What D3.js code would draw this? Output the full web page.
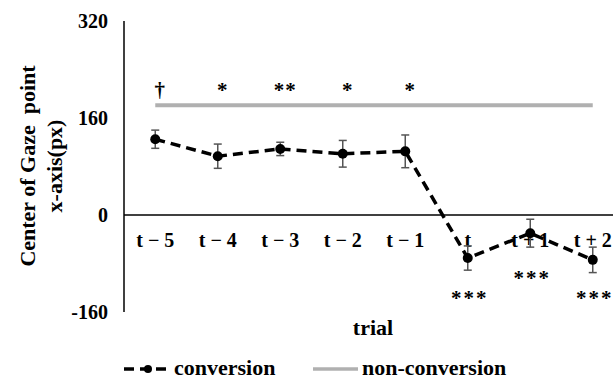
<!DOCTYPE html>
<html>
<head>
<meta charset="utf-8">
<script src="https://d3js.org/d3.v7.min.js"></script>
<style>
  body { margin: 0; background: #fff; }
</style>
</head>
<body>
<script>

// chart data
var trials = ["t \u2212 5", "t \u2212 4", "t \u2212 3", "t \u2212 2", "t \u2212 1", "t", "t + 1", "t + 2"];
var conversion = [125, 97, 109, 101, 105, -71, -30, -74];
var conversionErr = [15, 20, 11, 22, 27, 20, 23, 21];
var nonConversion = [181, 181, 181, 181, 181, 181, 181, 181];
var marksAbove = ["\u2020", "*", "**", "*", "*", "", "", ""];
var marksBelow = ["", "", "", "", "", "***", "***", "***"];
var yTicks = [-160, 0, 160, 320];

var width = 613,
    height = 380;

var svg = d3.select("body").append("svg")
    .attr("width", width)
    .attr("height", height);

var x = d3.scaleBand()
    .domain(trials)
    .range([124, 624]);

var y = d3.scaleLinear()
    .domain([-160, 320])
    .range([312, 21]);

function cx(d) { return x(d) + x.bandwidth() / 2; }

// y axis (no ticks, labels only)
svg.append("line")
    .attr("x1", 124).attr("x2", 124)
    .attr("y1", y(320)).attr("y2", y(-160))
    .attr("stroke", "#000").attr("stroke-width", 1.5);

svg.selectAll(".ytick")
    .data(yTicks)
  .enter().append("text")
    .attr("class", "ytick")
    .attr("x", 108)
    .attr("y", function(d) { return y(d); })
    .attr("dy", "0.35em")
    .attr("text-anchor", "end")
    .style("font-size", "20px")
    .text(function(d) { return d; });

// zero line
svg.append("line")
    .attr("x1", 124).attr("x2", width)
    .attr("y1", y(0)).attr("y2", y(0))
    .attr("stroke", "#000").attr("stroke-width", 1.5);

// category labels
svg.selectAll(".xtick")
    .data(trials)
  .enter().append("text")
    .attr("class", "xtick")
    .attr("x", cx)
    .attr("y", y(0) + 32)
    .attr("text-anchor", "middle")
    .style("font-size", "20px")
    .text(function(d) { return d; });

// non-conversion line
svg.append("path")
    .datum(nonConversion)
    .attr("fill", "none")
    .attr("stroke", "#b0b0b0")
    .attr("stroke-width", 4)
    .attr("d", d3.line()
      .x(function(d, i) { return cx(trials[i]); })
      .y(function(d) { return y(d); }));

// error bars
var eb = svg.append("g")
    .attr("stroke", "#555")
    .attr("stroke-width", 1.5);

conversion.forEach(function(v, i) {
  var xc = cx(trials[i]);
  eb.append("line")
    .attr("x1", xc).attr("x2", xc)
    .attr("y1", y(v + conversionErr[i])).attr("y2", y(v - conversionErr[i]));
  eb.append("line")
    .attr("x1", xc - 4).attr("x2", xc + 4)
    .attr("y1", y(v + conversionErr[i])).attr("y2", y(v + conversionErr[i]));
  eb.append("line")
    .attr("x1", xc - 4).attr("x2", xc + 4)
    .attr("y1", y(v - conversionErr[i])).attr("y2", y(v - conversionErr[i]));
});

// conversion line
svg.append("path")
    .datum(conversion)
    .attr("fill", "none")
    .attr("stroke", "#000")
    .attr("stroke-width", 3.5)
    .attr("stroke-dasharray", "10,6")
    .attr("d", d3.line()
      .x(function(d, i) { return cx(trials[i]); })
      .y(function(d) { return y(d); }));

svg.selectAll(".dot")
    .data(conversion)
  .enter().append("circle")
    .attr("class", "dot")
    .attr("cx", function(d, i) { return cx(trials[i]); })
    .attr("cy", function(d) { return y(d); })
    .attr("r", 5)
    .attr("fill", "#000");

// significance marks
svg.selectAll(".sigA")
    .data(marksAbove)
  .enter().append("text")
    .attr("class", "sigA")
    .attr("x", function(d, i) { return cx(trials[i]) + 5; })
    .attr("y", 97)
    .attr("text-anchor", "middle")
    .style("font-size", "21px")
    .style("letter-spacing", "1px")
    .text(function(d) { return d; });

svg.selectAll(".sigB")
    .data(marksBelow)
  .enter().append("text")
    .attr("class", "sigB")
    .attr("x", function(d, i) { return cx(trials[i]) + 2; })
    .attr("y", function(d, i) { return i == 6 ? 285 : 305; })
    .attr("text-anchor", "middle")
    .style("font-size", "21px")
    .style("letter-spacing", "2px")
    .text(function(d) { return d; });

// axis titles
var yt = svg.append("text")
    .attr("transform", "translate(0,166) rotate(-90)")
    .attr("text-anchor", "middle")
    .style("font-size", "22px")
    .style("white-space", "pre");
yt.append("tspan").attr("x", 0).attr("y", 35).text("Center of Gaze  point");
yt.append("tspan").attr("x", 0).attr("y", 62).text("x-axis(px)");

svg.append("text")
    .attr("x", 373)
    .attr("y", 335)
    .attr("text-anchor", "middle")
    .style("font-size", "22px")
    .text("trial");

// legend
var lg = svg.append("g");
lg.append("line")
    .attr("x1", 124).attr("x2", 172)
    .attr("y1", 369).attr("y2", 369)
    .attr("stroke", "#000").attr("stroke-width", 3.5)
    .attr("stroke-dasharray", "10,6");
lg.append("circle")
    .attr("cx", 148).attr("cy", 369).attr("r", 4).attr("fill", "#000");
lg.append("text")
    .attr("x", 174).attr("y", 375)
    .style("font-size", "22px")
    .text("conversion");
lg.append("line")
    .attr("x1", 313).attr("x2", 358)
    .attr("y1", 369).attr("y2", 369)
    .attr("stroke", "#b0b0b0").attr("stroke-width", 3.5);
lg.append("text")
    .attr("x", 362).attr("y", 375)
    .style("font-size", "22px")
    .text("non-conversion");

// Times-like bold serif for every label
svg.selectAll("text")
    .style("font-family", "'Liberation Serif'")
    .style("font-weight", "bold");

</script>
</body>
</html>
